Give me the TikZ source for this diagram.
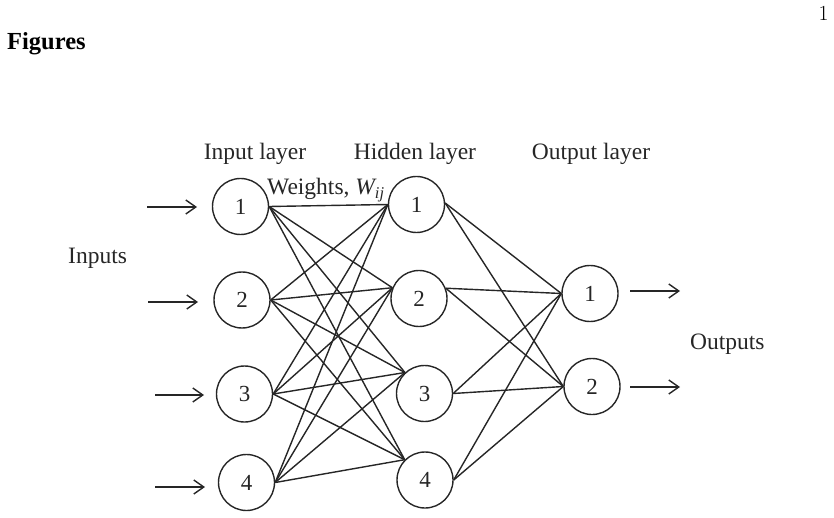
\documentclass[tikz,border=0pt]{standalone}
\usepackage{fontspec}
\usetikzlibrary{arrows.meta}
\newfontfamily\lib{Liberation Serif}
\definecolor{ink}{gray}{0.15}
\begin{document}
\begin{tikzpicture}[x=1pt,y=-1pt,
  neuron/.style={circle, draw=ink, line width=1.4pt, minimum size=56pt, inner sep=0pt,
    text=ink, font=\lib\fontsize{23}{26}\selectfont},
  lbl/.style={font=\lib\fontsize{23.5}{28}\selectfont, inner sep=0pt, text=ink},
  link/.style={draw=ink, line width=1.4pt},
  inarrow/.style={draw=ink, line width=1.4pt, -{Straight Barb[length=10pt,width=14pt,line width=1.4pt]}}]
\useasboundingbox (0,0) rectangle (834,518);

% neurons
\node[neuron] (i1) at (240.5,206.5) {1};
\node[neuron] (i2) at (242,300) {2};
\node[neuron] (i3) at (244.5,394) {3};
\node[neuron] (i4) at (246.5,482.5) {4};
\node[neuron] (h1) at (416.5,204.5) {1};
\node[neuron] (h2) at (419,298.5) {2};
\node[neuron] (h3) at (424.5,393.5) {3};
\node[neuron] (h4) at (425,480) {4};
\node[neuron] (o1) at (590,293.5) {1};
\node[neuron] (o2) at (592,386.5) {2};

% connections
\foreach \i in {1,...,4}
  \foreach \h/\a in {1/180,2/158,3/133,4/135}
    \draw[link] (i\i.east) -- (h\h.\a);
\foreach \h/\a in {1/3,2/21,3/0,4/0}
  \foreach \o in {1,2}
    \draw[link] (h\h.\a) -- (o\o.west);

% arrows
\coordinate (a1s) at (147,207); \coordinate (a1e) at (197,207);
\coordinate (a2s) at (148,302); \coordinate (a2e) at (198,302);
\coordinate (a3s) at (155,395); \coordinate (a3e) at (204,395);
\coordinate (a4s) at (155,487); \coordinate (a4e) at (205,487);
\coordinate (b1s) at (630,291); \coordinate (b1e) at (680,291);
\coordinate (b2s) at (630,387); \coordinate (b2e) at (680,387);
\draw[inarrow] (a1s) -- (a1e);
\draw[inarrow] (a2s) -- (a2e);
\draw[inarrow] (a3s) -- (a3e);
\draw[inarrow] (a4s) -- (a4e);
\draw[inarrow] (b1s) -- (b1e);
\draw[inarrow] (b2s) -- (b2e);

% labels
\node[lbl, anchor=base] (tin) at (255,160) {Input layer};
\node[lbl, anchor=base] (thid) at (415,160) {Hidden layer};
\node[lbl, anchor=base] (tout) at (591,160) {Output layer};
\node[lbl, anchor=base west] (tw) at (267,195) {Weights, {\itshape W}\textsubscript{\itshape ij}};
\node[lbl, anchor=base west] (tinputs) at (68,264) {Inputs};
\node[lbl, anchor=base west] (toutputs) at (690,349) {Outputs};
\node[font=\lib\bfseries\fontsize{24.5}{28}\selectfont, anchor=base west, inner sep=0pt] (fig) at (7,50) {Figures};
\node[font=\fontsize{21.5}{24}\selectfont, anchor=base, inner sep=0pt] (pg) at (823.5,21) {1};
\end{tikzpicture}
\end{document}
